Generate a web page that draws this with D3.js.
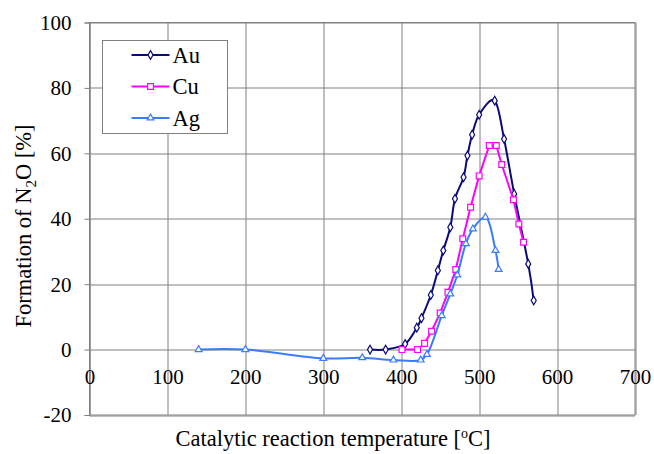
<!DOCTYPE html>
<html>
<head>
<meta charset="utf-8">
<script src="https://cdn.jsdelivr.net/npm/d3@7"></script>
<style>
body { margin: 0; background: #fff; }
svg text { font-family: "Liberation Serif", "Times New Roman", serif !important; fill: #000; }
</style>
</head>
<body>
<div id="chart"></div>
<script>
// temperatures [oC] and N2O formation [%]
var au_temp = [360, 380, 405, 420, 426, 438, 447, 454, 463, 469, 480, 485, 491, 500, 520, 532, 545, 563, 570];
var au_val = [0, 0, 1.7, 6.7, 9.6, 16.7, 24.2, 30.3, 37.4, 46.1, 52.7, 59.3, 65.7, 71.8, 76.1, 64.4, 47.6, 26.2, 15];
var cu_temp = [401, 421, 430, 439, 450, 460, 470, 479, 489, 500, 513, 522, 529, 544, 551, 557];
var cu_val = [0, 0, 1.9, 5.6, 11.2, 17.5, 24.5, 33.9, 43.5, 53.1, 62.4, 62.4, 56.6, 45.8, 38.4, 32.8];
var ag_temp = [140, 200, 300, 350, 390, 425, 433, 452, 463, 472, 483, 492, 508, 521, 525];
var ag_val = [0, 0, -2.7, -2.5, -3.2, -3.2, -1.5, 10.4, 17, 22.8, 32.4, 36.9, 40.5, 30.3, 24.5];
var x_ticks = [0, 100, 200, 300, 400, 500, 600, 700];
var y_ticks = [-20, 0, 20, 40, 60, 80, 100];

var margin = {top: 22.5, right: 19, bottom: 39, left: 89.5};
var width = 654 - margin.left - margin.right;
var height = 454 - margin.top - margin.bottom;
var serif = '"Liberation Serif", "Times New Roman", serif';

var x = d3.scaleLinear().domain([0, 700]).range([0, width]);
var y = d3.scaleLinear().domain([-20, 100]).range([height, 0]);

var svg = d3.select("#chart")
    .append("svg")
    .attr("width", 654)
    .attr("height", 454);

var vis = svg.append("g")
    .attr("transform", "translate(" + margin.left + "," + margin.top + ")");

// grid
vis.append("g").selectAll("line.hgrid")
    .data(y_ticks).enter().append("line")
    .attr("x1", 0).attr("x2", width)
    .attr("y1", function (d) { return Math.round(y(d)) + 0.5; })
    .attr("y2", function (d) { return Math.round(y(d)) + 0.5; })
    .style("stroke", "#808080").style("stroke-width", 1);

vis.append("g").selectAll("line.vgrid")
    .data(x_ticks).enter().append("line")
    .attr("y1", 0).attr("y2", height)
    .attr("x1", function (d) { return Math.round(x(d)) + 0.5; })
    .attr("x2", function (d) { return Math.round(x(d)) + 0.5; })
    .style("stroke", "#808080").style("stroke-width", 1);

vis.append("rect")
    .attr("x", 0).attr("y", 0)
    .attr("width", width).attr("height", height)
    .style("fill", "none").style("stroke", "#808080");

// y axis
var yaxis = d3.axisLeft(y).tickValues(y_ticks).tickSize(5).tickPadding(13)
    .tickFormat(function (d) { return String(d); });
var yg = vis.append("g").attr("class", "yaxis").attr("font-family", serif).call(yaxis);
yg.select(".domain").style("stroke", "#808080");
yg.selectAll(".tick line").style("stroke", "#808080");
yg.selectAll(".tick text").style("font-size", "21px").style("font-family", serif).attr("dy", "0.33em");

// x tick labels, below the zero line
var xaxis = d3.axisBottom(x).tickValues(x_ticks).tickSize(0).tickPadding(20)
    .tickFormat(function (d) { return String(d); });
var xg = vis.append("g").attr("class", "xaxis").attr("font-family", serif)
    .attr("transform", "translate(0," + y(0) + ")")
    .call(xaxis);
xg.select(".domain").remove();
xg.selectAll(".tick text").style("font-size", "21px").style("font-family", serif);

// axis titles
svg.append("text")
    .attr("transform", "translate(31," + 226 + ") rotate(-90)")
    .style("text-anchor", "middle")
    .style("font-size", "22.5px")
    .style("font-family", serif)
    .html('Formation of N<tspan dy="5" font-size="15px">2</tspan><tspan dy="-5">O [%]</tspan>');

svg.append("text")
    .attr("x", 333).attr("y", 446)
    .style("text-anchor", "middle")
    .style("font-size", "22.5px")
    .style("font-family", serif)
    .html('Catalytic reaction temperature [<tspan dy="-8" font-size="14px">o</tspan><tspan dy="8">C]</tspan>');

// series
var series = [
    {name: "Au", temp: au_temp, val: au_val, color: "#0a0a78", symbol: d3.symbolDiamond, size: 22, curve: d3.curveCardinal.tension(0)},
    {name: "Cu", temp: cu_temp, val: cu_val, color: "#ff00ff", symbol: d3.symbolSquare, size: 34, curve: d3.curveLinear},
    {name: "Ag", temp: ag_temp, val: ag_val, color: "#3a7bff", symbol: d3.symbolTriangle, size: 20, curve: d3.curveCatmullRom.alpha(0.5)}
];

series.forEach(function (s) {
    var pts = s.temp.map(function (t, i) { return {x: t, y: s.val[i]}; });
    var line = d3.line()
        .x(function (d) { return x(d.x); })
        .y(function (d) { return y(d.y); })
        .curve(s.curve);
    vis.append("path")
        .datum(pts)
        .attr("d", line)
        .style("fill", "none")
        .style("stroke", s.color)
        .style("stroke-width", 2);
    vis.append("g").selectAll("path")
        .data(pts).enter().append("path")
        .attr("transform", function (d) { return "translate(" + x(d.x) + "," + y(d.y) + ")"; })
        .attr("d", d3.symbol().type(s.symbol).size(s.size))
        .style("fill", "#fff")
        .style("stroke", s.color)
        .style("stroke-width", 1.2);
});

// legend
var legend = svg.append("g").attr("transform", "translate(102.5,40.5)");
legend.append("rect")
    .attr("width", 125).attr("height", 93)
    .style("fill", "#fff").style("stroke", "#808080");
series.forEach(function (s, i) {
    var ly = 14.5 + i * 31.5;
    legend.append("line")
        .attr("x1", 29).attr("x2", 67)
        .attr("y1", ly).attr("y2", ly)
        .style("stroke", s.color).style("stroke-width", 2);
    legend.append("path")
        .attr("transform", "translate(48," + ly + ")")
        .attr("d", d3.symbol().type(s.symbol).size(s.size))
        .style("fill", "#fff").style("stroke", s.color).style("stroke-width", 1.2);
    legend.append("text")
        .attr("x", 70).attr("y", ly + 7.5)
        .style("font-size", "22.5px")
        .style("font-family", serif)
        .text(s.name);
});
</script>
</body>
</html>
